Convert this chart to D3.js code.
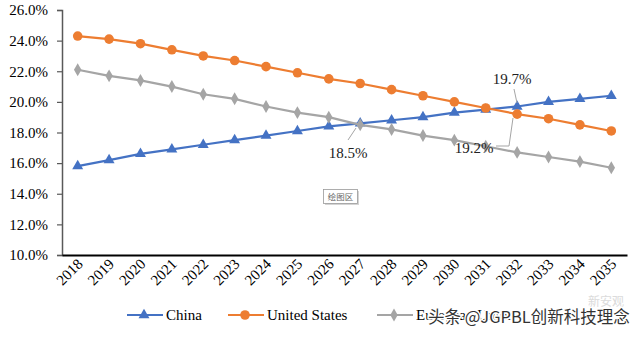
<!DOCTYPE html>
<html><head><meta charset="utf-8">
<script src="https://cdn.jsdelivr.net/npm/d3@7"></script>
<style>body{margin:0;background:#fff}svg{display:block}.serif{font-family:'Liberation Serif','Times New Roman',serif}</style>
</head><body><svg id="c" width="640" height="337"></svg>
<script>
const years = ["2018","2019","2020","2021","2022","2023","2024","2025","2026","2027","2028","2029","2030","2031","2032","2033","2034","2035"];
const china = [15.8,16.2,16.6,16.9,17.2,17.5,17.8,18.1,18.4,18.6,18.8,19.0,19.3,19.5,19.7,20.0,20.2,20.4];
const us = [24.3,24.1,23.8,23.4,23.0,22.7,22.3,21.9,21.5,21.2,20.8,20.4,20.0,19.6,19.2,18.9,18.5,18.1];
const eu = [22.1,21.7,21.4,21.0,20.5,20.2,19.7,19.3,19.0,18.5,18.2,17.8,17.5,17.1,16.7,16.4,16.1,15.7];
const yTicks = [10,12,14,16,18,20,22,24,26];
const seriesNames = ["China","United States","European Union"];
const annotations = [
  {label:"18.5%", series:"European Union", year:"2027"},
  {label:"19.7%", series:"China", year:"2032"},
  {label:"19.2%", series:"United States", year:"2032"}
];

const svg = d3.select("#c");
const x = d3.scaleBand().domain(years).range([62,627]);
const y = d3.scaleLinear().domain([10,26]).range([255,10]);
const cx = d => x(d)+x.bandwidth()/2;

const series = [
  {name:seriesNames[0], vals:china, color:"#4472C4", marker:"triangle"},
  {name:seriesNames[1], vals:us, color:"#ED7D31", marker:"circle"},
  {name:seriesNames[2], vals:eu, color:"#A5A5A5", marker:"diamond"}
];

// Y axis
const ya = svg.append("g").attr("transform","translate(62,0)")
  .call(d3.axisLeft(y).tickValues(yTicks).tickSize(5).tickFormat(d=>d.toFixed(1)+"%"));
ya.attr("font-family",null);
ya.select(".domain").attr("stroke","#595959").attr("stroke-width",1.5);
ya.selectAll(".tick line").attr("stroke","#595959").attr("stroke-width",1.2);
ya.selectAll(".tick text").attr("class","serif").attr("font-size",15).attr("fill","#000").attr("x",-14);

// X axis
const xa = svg.append("g").attr("transform","translate(0,255)")
  .call(d3.axisBottom(x).tickSize(0).tickSizeOuter(0));
xa.attr("font-family",null);
xa.select(".domain").attr("stroke","#000").attr("stroke-width",2);
xa.selectAll(".tick text").attr("class","serif").attr("font-size",15).attr("fill","#000")
  .attr("text-anchor","end").attr("dy",null).attr("y",0)
  .attr("transform","translate(6,10) rotate(-45)");

function markerPath(type){
  if(type==="triangle") return d3.symbol(d3.symbolTriangle, 52)();
  if(type==="circle") return d3.symbol(d3.symbolCircle, 72)();
  return d3.symbol(d3.symbolDiamond, 48)();
}

const line = d3.line().x((d,i)=>cx(years[i])).y(d=>y(d));
series.forEach(s=>{
  svg.append("path").datum(s.vals).attr("d",line).attr("fill","none")
    .attr("stroke",s.color).attr("stroke-width",2.2);
  svg.append("g").selectAll("path").data(s.vals).join("path")
    .attr("d",markerPath(s.marker))
    .attr("transform",(d,i)=>`translate(${cx(years[i])},${y(d)})`)
    .attr("fill",s.color);
});

// annotations
const ann = [
  {lx:348, ly:153, path:[[348,140],[356,128]]},
  {lx:512, ly:79, path:[[514,89],[517,103]]},
  {lx:474, ly:148, path:[[496,146],[509,146],[513,118]]}
];
annotations.forEach((a,i)=>{
  const g = ann[i];
  svg.append("path").attr("d",d3.line()(g.path)).attr("fill","none").attr("stroke","#A5A5A5").attr("stroke-width",1);
  svg.append("text").attr("class","serif").attr("x",g.lx).attr("y",g.ly).attr("dy","0.35em").attr("text-anchor","middle")
    .attr("font-size",15).attr("fill","#222").text(a.label);
});

// plot-area tooltip box
svg.append("rect").attr("x",325).attr("y",191).attr("width",34).attr("height",14).attr("fill","#aaa").attr("opacity",0.5);
svg.append("rect").attr("x",323.5).attr("y",189.5).attr("width",34).attr("height",14).attr("fill","#fff").attr("stroke","#999").attr("stroke-width",0.8);
svg.append("text").attr("x",340.5).attr("y",197).attr("dy","0.35em").attr("text-anchor","middle")
  .attr("font-family","'Noto Sans CJK SC',sans-serif").attr("font-size",8.5).attr("fill","#666").text("绘图区");

// legend
const legX = [127, 228, 377];
series.forEach((s,i)=>{
  const g = svg.append("g").attr("transform",`translate(${legX[i]},315)`);
  g.append("line").attr("x1",0).attr("x2",36).attr("stroke",s.color).attr("stroke-width",2.2);
  g.append("path").attr("d",markerPath(s.marker)).attr("transform","translate(17,0)").attr("fill",s.color);
  g.append("text").attr("class","serif").attr("x",39).attr("dy","0.35em").attr("font-size",15).attr("fill","#000").text(s.name);
});

// watermarks
svg.append("text").attr("x",606).attr("y",302).attr("dy","0.35em").attr("text-anchor","middle")
  .attr("font-family","'Noto Sans CJK SC',sans-serif").attr("font-size",12).attr("fill","#ccc").attr("opacity",0.7).text("新安观");
svg.append("text").attr("x",428).attr("y",317).attr("dy","0.35em")
  .attr("font-family","'Noto Sans CJK SC',sans-serif").attr("font-size",16.5).attr("fill","#333")
  .attr("stroke","#fff").attr("stroke-width",3).attr("paint-order","stroke").text("头条 @JGPBL创新科技理念");
</script></body></html>
